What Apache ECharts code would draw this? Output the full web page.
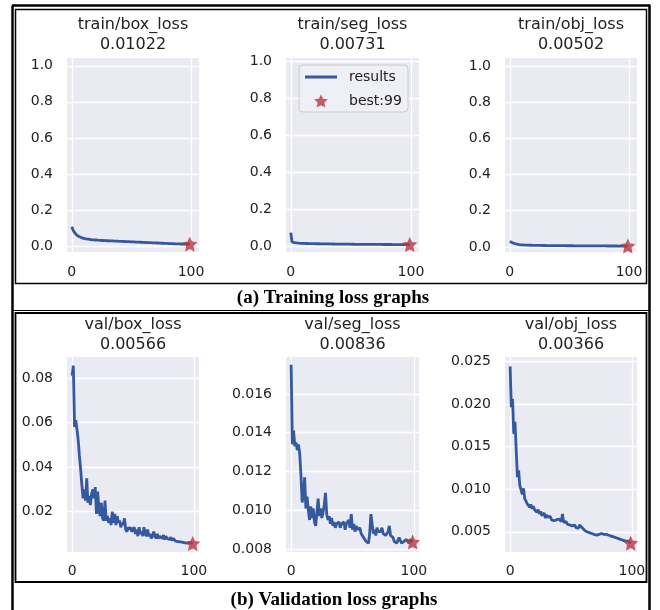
<!DOCTYPE html>
<html>
<head>
<meta charset="utf-8">
<script src="https://cdn.jsdelivr.net/npm/echarts@6/dist/echarts.min.js"></script>
<style>
html,body{margin:0;padding:0;background:#fff;}
#chart{width:660px;height:610px;}
</style>
</head>
<body>
<div id="chart"></div>
<script>
// ---------------- DATA ----------------
const panelNames = ['train/box_loss','train/seg_loss','train/obj_loss','val/box_loss','val/seg_loss','val/obj_loss'];
const finalLabels = ['0.01022','0.00731','0.00502','0.00566','0.00836','0.00366'];
const bestEpoch = 99;
const bestLabel = 'best:99';
const xTickValues = [0, 100];

const trainBox = [0.107,0.090,0.078,0.069,0.062,0.057,0.053,0.050,0.047,0.045,
0.043,0.041,0.040,0.039,0.038,0.037,0.036,0.035,0.0345,0.034,
0.0335,0.033,0.0325,0.032,0.0316,0.0312,0.0308,0.0304,0.030,0.0297,
0.0294,0.0291,0.0288,0.0285,0.0282,0.0279,0.0276,0.0273,0.027,0.0267,
0.0264,0.0261,0.0258,0.0255,0.0252,0.0249,0.0246,0.0243,0.0240,0.0237,
0.0234,0.0231,0.0228,0.0225,0.0222,0.0219,0.0216,0.0213,0.0210,0.0207,
0.0204,0.0201,0.0198,0.0195,0.0192,0.0189,0.0186,0.0183,0.0180,0.0177,
0.0174,0.0171,0.0168,0.0165,0.0162,0.0159,0.0156,0.0153,0.0150,0.0147,
0.0144,0.0141,0.0138,0.0135,0.0132,0.0129,0.0127,0.0125,0.0123,0.0121,
0.0119,0.0117,0.0115,0.0113,0.0111,0.0109,0.0107,0.0105,0.0104,0.01022];

const trainSeg = [0.072,0.022,0.019,0.0175,0.0165,0.0158,0.0152,0.0147,0.0143,0.0140,
0.0137,0.0134,0.0132,0.0130,0.0128,0.0126,0.0124,0.0122,0.0121,0.0120,
0.0118,0.0117,0.0116,0.0115,0.0114,0.0113,0.0112,0.0111,0.0110,0.0109,
0.0108,0.0107,0.0106,0.0105,0.0104,0.0103,0.0102,0.0101,0.0100,0.0099,
0.0098,0.0097,0.0096,0.0096,0.0095,0.0094,0.0093,0.0093,0.0092,0.0091,
0.0090,0.0090,0.0089,0.0088,0.0088,0.0087,0.0086,0.0086,0.0085,0.0085,
0.0084,0.0083,0.0083,0.0082,0.0082,0.0081,0.0081,0.0080,0.0080,0.0079,
0.0079,0.0078,0.0078,0.0078,0.0077,0.0077,0.0077,0.0076,0.0076,0.0076,
0.0075,0.0075,0.0075,0.0075,0.0074,0.0074,0.0074,0.0074,0.0074,0.0073,
0.0073,0.0073,0.0073,0.0073,0.0073,0.0073,0.0073,0.0073,0.0073,0.00731];

const trainObj = [0.030,0.027,0.024,0.021,0.019,0.017,0.0155,0.0143,0.0133,0.0125,
0.0118,0.0113,0.0109,0.0105,0.0102,0.0099,0.0097,0.0095,0.0093,0.0091,
0.0089,0.0088,0.0087,0.0085,0.0084,0.0083,0.0082,0.0081,0.0080,0.0079,
0.0078,0.0077,0.0077,0.0076,0.0075,0.0074,0.0074,0.0073,0.0072,0.0072,
0.0071,0.0070,0.0070,0.0069,0.0069,0.0068,0.0067,0.0067,0.0066,0.0066,
0.0065,0.0065,0.0064,0.0064,0.0063,0.0063,0.0062,0.0062,0.0061,0.0061,
0.0060,0.0060,0.0059,0.0059,0.0058,0.0058,0.0058,0.0057,0.0057,0.0056,
0.0056,0.0056,0.0055,0.0055,0.0055,0.0054,0.0054,0.0054,0.0053,0.0053,
0.0053,0.0053,0.0052,0.0052,0.0052,0.0052,0.0051,0.0051,0.0051,0.0051,
0.0051,0.0050,0.0050,0.0050,0.0050,0.0050,0.0050,0.0050,0.0050,0.00502];

const valBox = [0.081,0.0855,0.058,0.061,0.057,0.052,0.045,0.039,0.032,0.026,
0.030,0.025,0.035,0.024,0.027,0.023,0.028,0.030,0.026,0.031,
0.019,0.029,0.021,0.018,0.024,0.017,0.016,0.025,0.016,0.018,
0.015,0.017,0.014,0.020,0.015,0.019,0.014,0.018,0.015,0.016,
0.013,0.015,0.014,0.017,0.012,0.011,0.013,0.012,0.013,0.011,
0.012,0.013,0.010,0.012,0.009,0.013,0.010,0.011,0.009,0.013,
0.010,0.009,0.012,0.009,0.010,0.008,0.009,0.011,0.009,0.008,
0.010,0.008,0.009,0.0085,0.008,0.0095,0.0075,0.009,0.008,0.0085,
0.0075,0.0085,0.007,0.008,0.0072,0.0068,0.0075,0.0066,0.007,0.0064,
0.0066,0.0062,0.0063,0.006,0.0061,0.0059,0.0058,0.0062,0.0059,0.00566];

const valSeg = [0.0175,0.0134,0.0141,0.0133,0.0135,0.0131,0.0134,0.0129,0.0118,0.0104,
0.0108,0.0117,0.0101,0.0107,0.0100,0.0095,0.0102,0.0096,0.0101,0.0094,
0.0092,0.0099,0.0106,0.0097,0.0101,0.0096,0.0099,0.0103,0.0109,0.0098,
0.0095,0.0097,0.0093,0.0096,0.0092,0.0094,0.0091,0.0093,0.0092,0.0094,
0.0091,0.0093,0.0092,0.0094,0.0090,0.0093,0.0092,0.0095,0.0091,0.0098,
0.0090,0.0093,0.0089,0.0092,0.0090,0.0089,0.0091,0.0088,0.0087,0.0086,
0.0085,0.0084,0.0083,0.0083,0.0088,0.0098,0.0093,0.0088,0.0090,0.0087,
0.0091,0.0089,0.0090,0.0089,0.0091,0.0088,0.0089,0.0087,0.0088,0.0089,
0.0092,0.0087,0.0088,0.0086,0.0084,0.0085,0.0083,0.0084,0.0086,0.0085,
0.0083,0.0082,0.0084,0.0083,0.0085,0.0084,0.0083,0.0085,0.0084,0.00836];

const valObj = [0.0244,0.0196,0.0206,0.0165,0.0179,0.0146,0.0114,0.0122,0.0104,0.0099,
0.0094,0.0101,0.0089,0.0086,0.0083,0.0085,0.0079,0.0082,0.0077,0.0080,
0.0076,0.0078,0.0073,0.0076,0.0071,0.0074,0.0069,0.0068,0.0072,0.0066,
0.0070,0.0067,0.0065,0.0068,0.0064,0.0066,0.0063,0.0065,0.0064,0.0062,
0.0065,0.0063,0.0062,0.0071,0.0061,0.0060,0.0062,0.0059,0.0060,0.0058,
0.0059,0.0057,0.0056,0.0058,0.0055,0.0056,0.0054,0.0058,0.0060,0.0055,
0.0054,0.0052,0.0053,0.0050,0.0051,0.0049,0.0050,0.0048,0.0049,0.0047,
0.0048,0.0046,0.0048,0.0047,0.0049,0.0048,0.0046,0.0047,0.0049,0.0047,
0.0045,0.0046,0.0044,0.0045,0.0043,0.0044,0.0042,0.0043,0.0041,0.0042,
0.0040,0.0041,0.0039,0.0040,0.0038,0.0039,0.0037,0.0039,0.0038,0.00366];

const seriesValues = [trainBox, trainSeg, trainObj, valBox, valSeg, valObj];

const yTickValues = [
  [0, 0.2, 0.4, 0.6, 0.8, 1.0],
  [0, 0.2, 0.4, 0.6, 0.8, 1.0],
  [0, 0.2, 0.4, 0.6, 0.8, 1.0],
  [0.02, 0.04, 0.06, 0.08],
  [0.008, 0.010, 0.012, 0.014, 0.016],
  [0.005, 0.010, 0.015, 0.020, 0.025]
];
const yDecimals = [1, 1, 1, 2, 3, 3];

// ---------------- LAYOUT ----------------
const gridBoxes = [
  {left: 67, top: 58, width: 132, height: 194},
  {left: 286, top: 58, width: 133, height: 194},
  {left: 505, top: 58, width: 132, height: 194},
  {left: 67, top: 357, width: 132, height: 195},
  {left: 286, top: 357, width: 133, height: 195},
  {left: 505, top: 357, width: 132, height: 195}
];
const yRanges = [[-0.033, 1.043], [-0.033, 1.016], [-0.028, 1.044],
                 [0.0019, 0.0894], [0.00785, 0.0179], [0.00263, 0.0255]];
const xRanges = [[-4, 106.7], [-4, 106.7], [-4, 106.7],
                 [-4.2, 104.2], [-4.2, 104.2], [-4.2, 104.2]];

const LINE_COLOR = '#34599e';
const STAR_COLOR = '#b8363e';
const TEXT_COLOR = '#222';
const FONT = 'DejaVu Sans';
const STAR = 'path://M50,0 L65,30 L99,34 L74,57 L81,92 L50,76 L19,92 L26,57 L1,34 L35,30 Z';
const LINE_ICON = 'path://M0,0 L32,0 L32,3 L0,3 Z';

const grids = [], xAxes = [], yAxes = [], series = [], titles = [];
for (let i = 0; i < 6; i++) {
  const g = gridBoxes[i];
  grids.push(Object.assign({show: true, backgroundColor: '#eaeaf2', borderWidth: 0, containLabel: false}, g));
  xAxes.push({
    type: 'value', gridIndex: i, min: xRanges[i][0], max: xRanges[i][1],
    axisLine: {show: false},
    axisTick: {show: false, customValues: xTickValues},
    axisLabel: {customValues: xTickValues, fontSize: 14, fontFamily: FONT, color: TEXT_COLOR, margin: i < 3 ? 13 : 12},
    splitLine: {show: true, customValues: xTickValues, lineStyle: {color: '#ffffff', width: 1.3}}
  });
  const d = yDecimals[i];
  yAxes.push({
    type: 'value', gridIndex: i, min: yRanges[i][0], max: yRanges[i][1],
    axisLine: {show: false},
    axisTick: {show: false, customValues: yTickValues[i]},
    axisLabel: {customValues: yTickValues[i], fontSize: 14, fontFamily: FONT, color: TEXT_COLOR, margin: 14,
      formatter: v => Number(v).toFixed(d)},
    splitLine: {show: true, customValues: yTickValues[i], lineStyle: {color: '#ffffff', width: 1.3}}
  });
  const vals = seriesValues[i];
  series.push({
    name: 'results', type: 'line', xAxisIndex: i, yAxisIndex: i,
    data: vals.map((v, k) => [k, v]),
    showSymbol: false, symbol: 'none',
    lineStyle: {color: LINE_COLOR, width: 2.8},
    itemStyle: {color: LINE_COLOR},
    animation: false, z: 3
  });
  series.push({
    name: bestLabel, type: 'scatter', xAxisIndex: i, yAxisIndex: i,
    data: [[bestEpoch, vals[bestEpoch]]],
    symbol: STAR, symbolSize: 15,
    itemStyle: {color: STAR_COLOR},
    animation: false, z: 4
  });
  titles.push({
    text: panelNames[i] + '\n' + finalLabels[i],
    left: g.left + g.width / 2, top: i < 3 ? 15 : 315,
    textAlign: 'center', padding: 0,
    textStyle: {fontSize: 16, fontWeight: 'normal', fontFamily: FONT, color: TEXT_COLOR, lineHeight: 20}
  });
}

const chart = echarts.init(document.getElementById('chart'), null, {renderer: 'canvas'});
chart.setOption({
  backgroundColor: '#ffffff',
  animation: false,
  title: titles,
  grid: grids,
  xAxis: xAxes,
  yAxis: yAxes,
  series: series,
  legend: {
    orient: 'vertical', left: 305, top: 70, padding: 0,
    itemWidth: 32, itemHeight: 13, itemGap: 10,
    symbolKeepAspect: true,
    textStyle: {fontSize: 14, fontFamily: FONT, color: TEXT_COLOR, padding: [0, 0, 0, 7]},
    data: [{name: 'results', icon: LINE_ICON}, {name: bestLabel, icon: STAR, itemStyle: {color: STAR_COLOR}}],
    selectedMode: false, z: 10
  },
  graphic: [
    {type: 'rect', shape: {x: 299, y: 65, width: 109, height: 47, r: 4}, style: {fill: 'rgba(240,240,246,0.9)', stroke: '#cccccc', lineWidth: 1}, z: 9},
    {type: 'line', shape: {x1: 12.5, y1: 5.5, x2: 12.5, y2: 612}, style: {stroke: '#000', lineWidth: 2.5}, z: 20},
    {type: 'line', shape: {x1: 649.5, y1: 5.5, x2: 649.5, y2: 612}, style: {stroke: '#000', lineWidth: 2.5}, z: 20},
    {type: 'line', shape: {x1: 12, y1: 5.5, x2: 650.5, y2: 5.5}, style: {stroke: '#000', lineWidth: 2.5}, z: 20},
    {type: 'rect', shape: {x: 15.5, y: 9.5, width: 631, height: 274}, style: {fill: 'none', stroke: '#000', lineWidth: 1.5}, z: 20},
    {type: 'line', shape: {x1: 12, y1: 310.5, x2: 650, y2: 310.5}, style: {stroke: '#000', lineWidth: 1.2}, z: 20},
    {type: 'rect', shape: {x: 15.5, y: 313, width: 631, height: 269}, style: {fill: 'none', stroke: '#000', lineWidth: 1.8}, z: 20},
    {type: 'text', x: 333, y: 298, style: {text: '(a) Training loss graphs', font: 'bold 19px "Liberation Serif"', fill: '#000', align: 'center', verticalAlign: 'middle'}, z: 20},
    {type: 'text', x: 334, y: 600, style: {text: '(b) Validation loss graphs', font: 'bold 19px "Liberation Serif"', fill: '#000', align: 'center', verticalAlign: 'middle'}, z: 20}
  ]
});
</script>
</body>
</html>
